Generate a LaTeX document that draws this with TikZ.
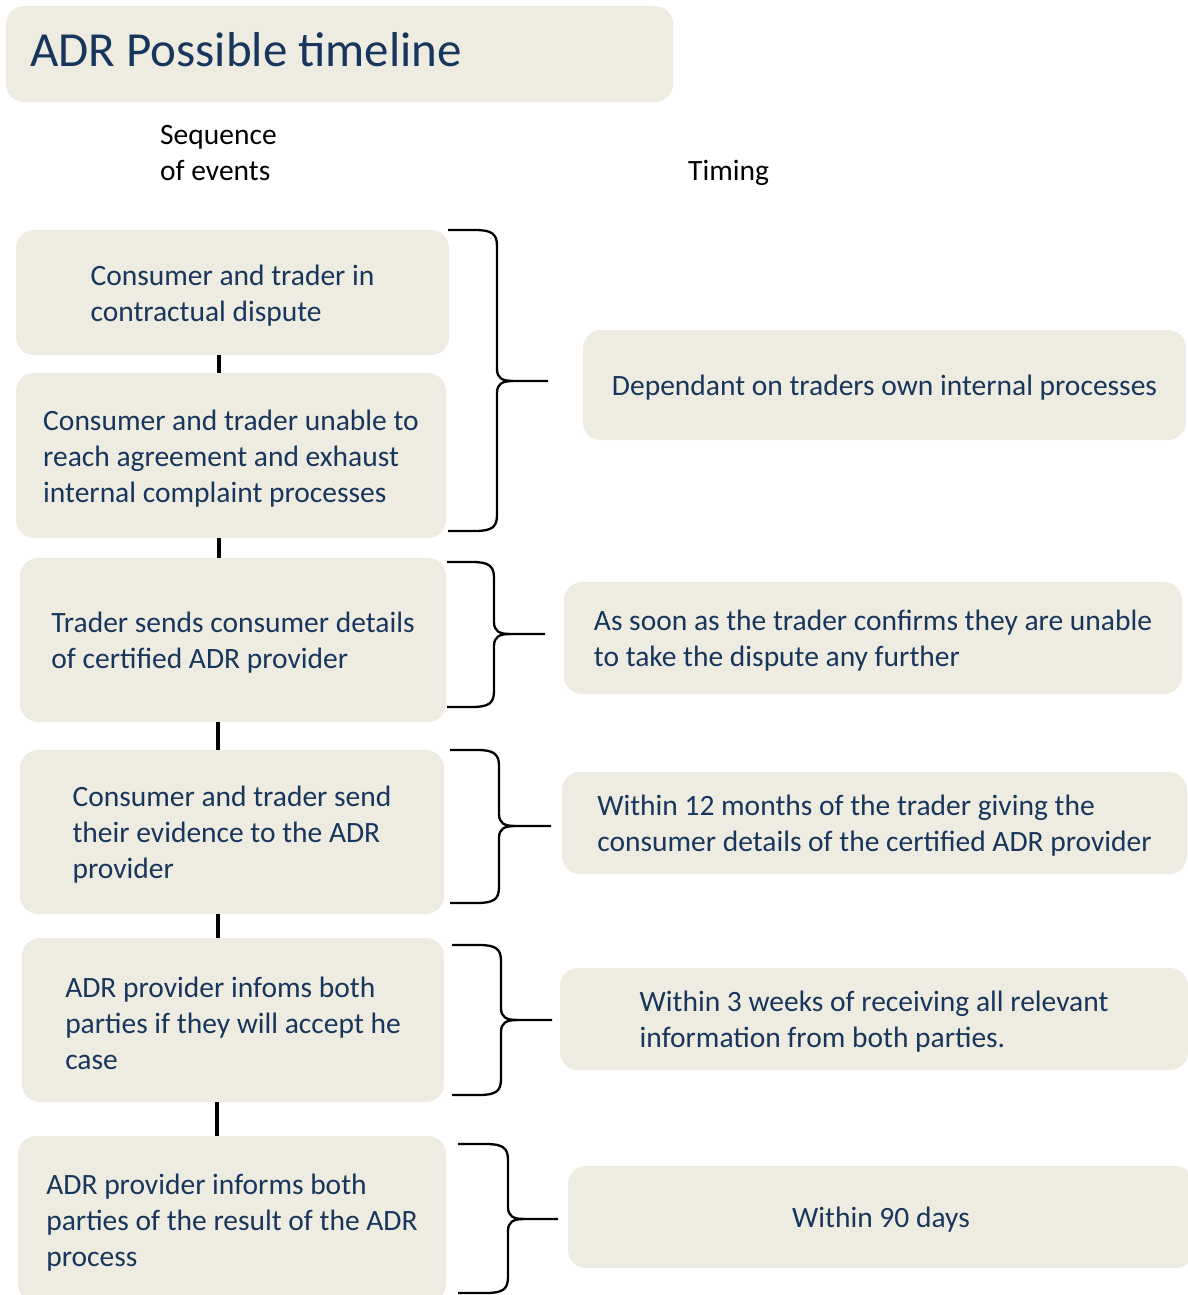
\documentclass[tikz,border=0pt]{standalone}
\usepackage{fontspec}
\setmainfont{Carlito}
\definecolor{navy}{HTML}{17365D}
\definecolor{boxfill}{HTML}{EEECE1}
\tikzset{
  evbox/.style={fill=boxfill, draw=none, rounded corners=18pt, inner sep=0pt},
  evtext/.style={align=left, text=navy, font=\fontsize{29.5}{36}\selectfont, inner sep=0pt, yshift=-3pt},
  conn/.style={line width=3.5pt, black},
  bracestyle/.style={line width=2.3pt, black, line join=round},
  plain/.style={font=\fontsize{29.5}{36}\selectfont, align=left, inner sep=0pt, anchor=west}
}
\newcommand\adrbrace[6]{% left, top, bottom, vertical x, tip x, mid
  \draw[bracestyle] (#1,#2) -- ({#4-22},#2) .. controls ({#4-5},#2) and (#4,{#2+4}) .. (#4,{#2+16})
     -- (#4,{#6-12}) .. controls (#4,{#6-3}) and ({#4+5},#6) .. ({#4+16},#6) -- (#5,#6);
  \draw[bracestyle] ({#4+16},#6) .. controls ({#4+5},#6) and (#4,{#6+3}) .. (#4,{#6+12})
     -- (#4,{#3-16}) .. controls (#4,{#3-4}) and ({#4-5},#3) .. ({#4-22},#3) -- (#1,#3);
}
\begin{document}
\begin{tikzpicture}[x=1pt,y=-1pt]
\useasboundingbox (0,0) rectangle (1187,1295);
% title
\node[evbox, anchor=north west, minimum width=667pt, minimum height=96pt] (title) at (6,6) {};
\node[evtext, anchor=west, font=\fontsize{49}{56}\selectfont, yshift=2pt] (titletext) at (30,49) {ADR Possible timeline};
\node[plain] (seq) at (160,153) {Sequence\\of events};
\node[plain] (timing) at (688,173) {Timing};
% left boxes
\node[evbox, minimum width=433pt, minimum height=125pt] (b1) at (232.5,292.5) {};
\node[evtext] (b1t) at (b1.center) {Consumer and trader in\\contractual dispute};
\node[evbox, minimum width=430pt, minimum height=165pt] (b2) at (231,455.5) {};
\node[evtext] (b2t) at (b2.center) {Consumer and trader unable to\\reach agreement and exhaust\\internal complaint processes};
\node[evbox, minimum width=426pt, minimum height=164pt] (b3) at (233,640) {};
\node[evtext] (b3t) at (b3.center) {Trader sends consumer details\\of certified ADR provider};
\node[evbox, minimum width=424pt, minimum height=164pt] (b4) at (232,832) {};
\node[evtext] (b4t) at (b4.center) {Consumer and trader send\\their evidence to the ADR\\provider};
\node[evbox, minimum width=422pt, minimum height=164pt] (b5) at (233,1020) {};
\node[evtext] (b5t) at (b5.center) {ADR provider infoms both\\parties if they will accept he\\case};
\node[evbox, minimum width=428pt, minimum height=166pt] (b6) at (232,1219) {};
\node[evtext] (b6t) at ([yshift=-1pt]b6.center) {ADR provider informs both\\parties of the result of the ADR\\process};
% right boxes
\node[evbox, minimum width=603pt, minimum height=110pt] (r1) at (884.5,385) {};
\node[evtext] (r1t) at (r1.center) {Dependant on traders own internal processes};
\node[evbox, minimum width=618pt, minimum height=112pt] (r2) at (873,638) {};
\node[evtext] (r2t) at (r2.center) {As soon as the trader confirms they are unable\\to take the dispute any further};
\node[evbox, minimum width=625pt, minimum height=102pt] (r3) at (874.5,823) {};
\node[evtext] (r3t) at (r3.center) {Within 12 months of the trader giving the\\consumer details of the certified ADR provider};
\node[evbox, minimum width=628pt, minimum height=102pt] (r4) at (874,1019) {};
\node[evtext] (r4t) at (r4.center) {Within 3 weeks of receiving all relevant\\information from both parties.};
\node[evbox, minimum width=626pt, minimum height=102pt] (r5) at (881,1217) {};
\node[evtext] (r5t) at (r5.center) {Within 90 days};
% connectors
\coordinate (xl) at (219,0);
\draw[conn] (b1.south -| xl) -- (b2.north -| xl);
\draw[conn] (b2.south -| xl) -- (b3.north -| xl);
\draw[conn] ([xshift=-1pt]b3.south -| xl) -- ([xshift=-1pt]b4.north -| xl);
\draw[conn] ([xshift=-1pt]b4.south -| xl) -- ([xshift=-1pt]b5.north -| xl);
\draw[conn] ([xshift=-2pt]b5.south -| xl) -- ([xshift=-2pt]b6.north -| xl);
% braces
\adrbrace{448}{230}{531}{497}{548}{381}
\adrbrace{447}{562}{707}{494}{545}{634}
\adrbrace{450}{750}{903}{499}{551}{826}
\adrbrace{452}{945}{1095}{501}{552}{1020}
\adrbrace{458}{1144}{1293}{508}{558}{1219}
\end{tikzpicture}
\end{document}
